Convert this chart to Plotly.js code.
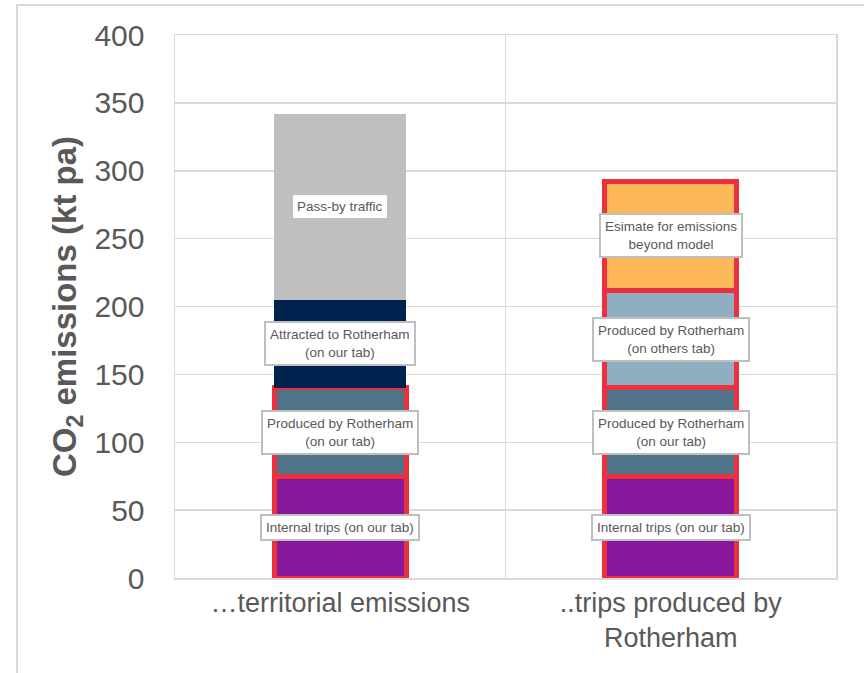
<!DOCTYPE html>
<html>
<head>
<meta charset="utf-8">
<script src="https://cdn.plot.ly/plotly-3.0.1.min.js"></script>
<style>
  html, body { margin: 0; padding: 0; background: #ffffff; overflow: hidden; }
  #frame { position: absolute; left: 16px; top: 4px; width: 900px; height: 720px; border: 2px solid #d9d9d9; box-sizing: border-box; }
  #chart { position: absolute; left: 0; top: 0; width: 864px; height: 673px; }
</style>
</head>
<body>
<div id="frame"></div>
<div id="chart"></div>
<script>
// Categories (x)
const categories = ["\u2026territorial emissions", "..trips produced by<br>Rotherham"];

// Series values (kt CO2 per annum), stacked bottom to top
const internalTrips   = [75, 75];
const producedOurTab  = [65, 65];
const attracted       = [65, 0];
const producedOthers  = [0, 72];
const passBy          = [137, 0];
const estimateBeyond  = [0, 80];

// Segment labels
const seriesNames = [
  "Internal trips (on our tab)",
  "Produced by Rotherham<br>(on our tab)",
  "Attracted to Rotherham<br>(on our tab)",
  "Produced by Rotherham<br>(on others tab)",
  "Pass-by traffic",
  "Esimate for emissions<br>beyond model"
];
const seriesValues = [internalTrips, producedOurTab, attracted, producedOthers, passBy, estimateBeyond];
const seriesColors = ["#87189B", "#4F7489", "#00224F", "#8FAEC1", "#BFBFBF", "#FDB85A"];
// whether each segment gets the red outline, per category
const outlined = [
  [true, true],
  [true, true],
  [false, false],
  [false, true],
  [false, false],
  [false, true]
];

const RED = "#EE2F3D";
const traces = seriesValues.map((vals, i) => ({
  type: "bar",
  x: categories,
  y: vals,
  name: seriesNames[i],
  width: 0.4,
  marker: {
    color: seriesColors[i],
    line: {
      color: outlined[i].map(o => o ? RED : "rgba(0,0,0,0)"),
      width: outlined[i].map((o, j) => (o && vals[j] > 0) ? 5 : 0)
    }
  },
  hoverinfo: "none"
}));

// Labels at segment midpoints
const annotations = [];
const cum = categories.map(() => 0);
seriesValues.forEach((vals, i) => {
  vals.forEach((v, j) => {
    if (v > 0) {
      annotations.push({
        x: categories[j], y: cum[j] + v / 2, xref: "x", yref: "y",
        text: seriesNames[i], showarrow: false,
        font: { family: "Liberation Sans, Arial, sans-serif", size: 13.5, color: "#595959" },
        bgcolor: "#ffffff", bordercolor: "#BFBFBF", borderwidth: 2, borderpad: 4
      });
      cum[j] += v;
    }
  });
});

const layout = {
  width: 864, height: 673,
  margin: { l: 175, r: 28, t: 35, b: 95 },
  paper_bgcolor: "rgba(0,0,0,0)",
  plot_bgcolor: "#ffffff",
  barmode: "stack",
  showlegend: false,
  font: { family: "Liberation Sans, Arial, sans-serif", color: "#595959" },
  xaxis: {
    type: "category",
    tickson: "boundaries",
    showgrid: true, gridcolor: "#d9d9d9", gridwidth: 1.5,
    ticks: "", showline: true, mirror: true, linecolor: "#d9d9d9", linewidth: 1.5,
    tickfont: { size: 27, color: "#595959" },
    fixedrange: true
  },
  yaxis: {
    range: [0, 400], dtick: 50,
    showgrid: true, gridcolor: "#d9d9d9", gridwidth: 1.5,
    zeroline: false, showline: true, mirror: true, linecolor: "#d9d9d9", linewidth: 1.5,
    ticks: "",
    ticklabelstandoff: 23,
    tickfont: { size: 30, color: "#595959" },
    title: { text: "<b>CO<sub>2</sub> emissions (kt pa)</b>", font: { size: 33, color: "#595959" }, standoff: 8 },
    fixedrange: true
  },
  annotations: annotations
};

Plotly.newPlot("chart", traces, layout, { displayModeBar: false, staticPlot: true });
</script>
</body>
</html>
